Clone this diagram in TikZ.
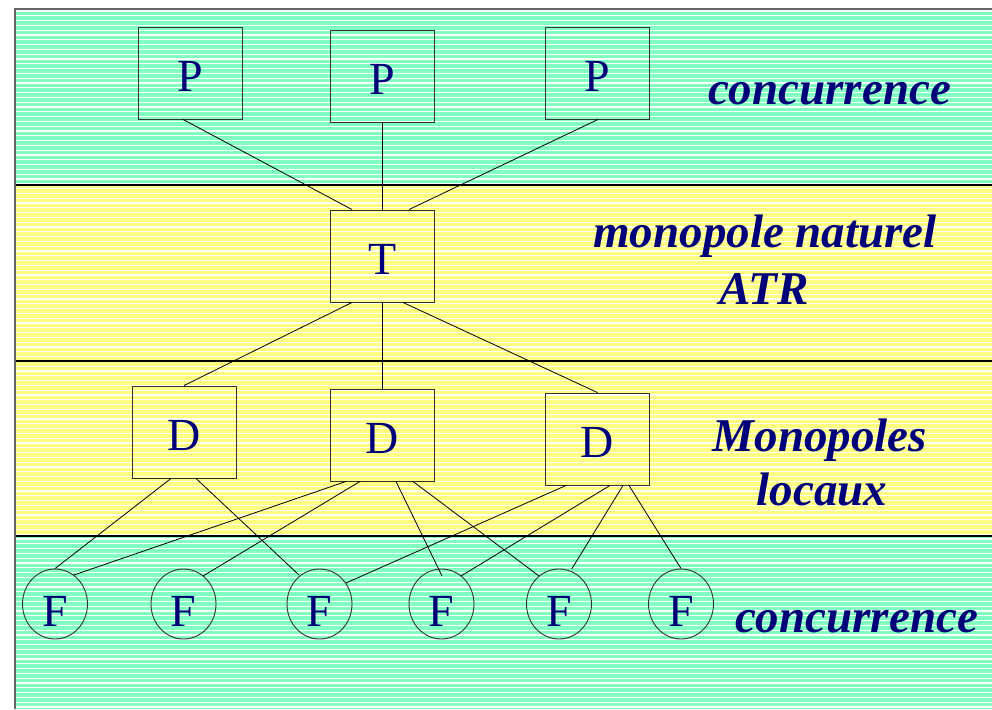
\documentclass[tikz,border=0pt]{standalone}
\usepackage{fontspec}
\setmainfont{Liberation Serif}
\usetikzlibrary{shapes.geometric}
\definecolor{bandgreen}{RGB}{128,255,192}
\definecolor{bandyellow}{RGB}{255,255,128}
\definecolor{navytext}{RGB}{0,0,120}
\begin{document}
\begin{tikzpicture}[x=1pt,y=-1pt,
  box/.style={draw=black!80, line width=0.9pt, minimum width=104pt, minimum height=92pt,
    inner sep=0pt, text height=37pt, text depth=0pt, font=\fontsize{46}{50}\selectfont, text=navytext},
  firm/.style={ellipse, draw=black!80, line width=0.9pt, minimum width=65pt, minimum height=70pt,
    inner sep=0pt, text height=44pt, text depth=0pt, font=\fontsize{46}{50}\selectfont, text=navytext},
  link/.style={draw=black, line width=0.8pt},
  lab/.style={font=\fontsize{47}{52}\selectfont\bfseries\itshape, text=navytext, anchor=base, inner sep=0pt},
  stripe/.style={white, line width=1.2pt},
  bandline/.style={black, line width=1.2pt}]
\useasboundingbox (0,0) rectangle (992,709);
\fill[white] (0,0) rectangle (992,709);
% bands
\fill[bandgreen] (15,9) rectangle (992,185);
\fill[bandyellow] (15,185) rectangle (992,536);
\fill[bandgreen] (15,536) rectangle (992,709);
\foreach \i in {0,...,145} \draw[stripe] (15,{11+4.8*\i}) -- (992,{11+4.8*\i});
\draw[bandline] (15,185) -- (992,185);
\draw[bandline] (15,361) -- (992,361);
\draw[bandline] (15,536) -- (992,536);
\draw[black!60, line width=1.5pt] (15,709) -- (15,9) -- (992,9);
% nodes
\node[box] (P1) at (190,73) {P};
\node[box] (P2) at (382.5,76) {P};
\node[box] (P3) at (597,73) {P};
\node[box] (T) at (382.5,256) {T};
\node[box] (D1) at (184,432) {D};
\node[box] (D2) at (382.5,435) {D};
\node[box] (D3) at (597.5,439) {D};
\node[firm] (F1) at (55,604) {F};
\node[firm] (F2) at (183.5,604) {F};
\node[firm] (F3) at (319.5,604) {F};
\node[firm] (F4) at (441.5,604) {F};
\node[firm] (F5) at (559,604) {F};
\node[firm] (F6) at (681,604) {F};
% labels
\node[lab] (L1) at (829.5,104) {concurrence};
\node[lab] (L2) at (765,247) {monopole naturel};
\node[lab] (L3) at (764,304) {ATR};
\node[lab] (L4) at (820,451) {Monopoles};
\node[lab] (L5) at (822,505) {locaux};
\node[lab] (L6) at (856.5,632) {concurrence};
% connectors
\draw[link] ([xshift=-7pt]P1.south) -- ([xshift=-30.5pt]T.north);
\draw[link] (P2.south) -- (T.north);
\draw[link] ([xshift=1pt]P3.south) -- ([xshift=26.5pt]T.north);
\draw[link] ([xshift=-30.5pt]T.south) -- (D1.north);
\draw[link] (T.south) -- (D2.north);
\draw[link] ([xshift=20.5pt]T.south) -- (D3.north);
\draw[link] ([xshift=-13pt]D1.south) -- (F1.north);
\draw[link] ([xshift=12pt]D1.south) -- ([shift={(-20.5,-29)}]F3.center);
\draw[link] ([xshift=-36.5pt]D2.south) -- ([shift={(19,-29)}]F1.center);
\draw[link] ([xshift=-22.5pt]D2.south) -- ([shift={(19.5,-28)}]F2.center);
\draw[link] ([xshift=13.5pt]D2.south) -- ([shift={(0.5,-28)}]F4.center);
\draw[link] ([xshift=30.5pt]D2.south) -- ([shift={(-20,-28)}]F5.center);
\draw[link] ([xshift=-31.5pt]D3.south) -- ([shift={(26.5,-21)}]F3.center);
\draw[link] ([xshift=12.5pt]D3.south) -- ([shift={(19.5,-28)}]F4.center);
\draw[link] ([xshift=25.5pt]D3.south) -- ([shift={(12.7,-35)}]F5.center);
\draw[link] ([xshift=31.5pt]D3.south) -- (F6.north);
\end{tikzpicture}
\end{document}
